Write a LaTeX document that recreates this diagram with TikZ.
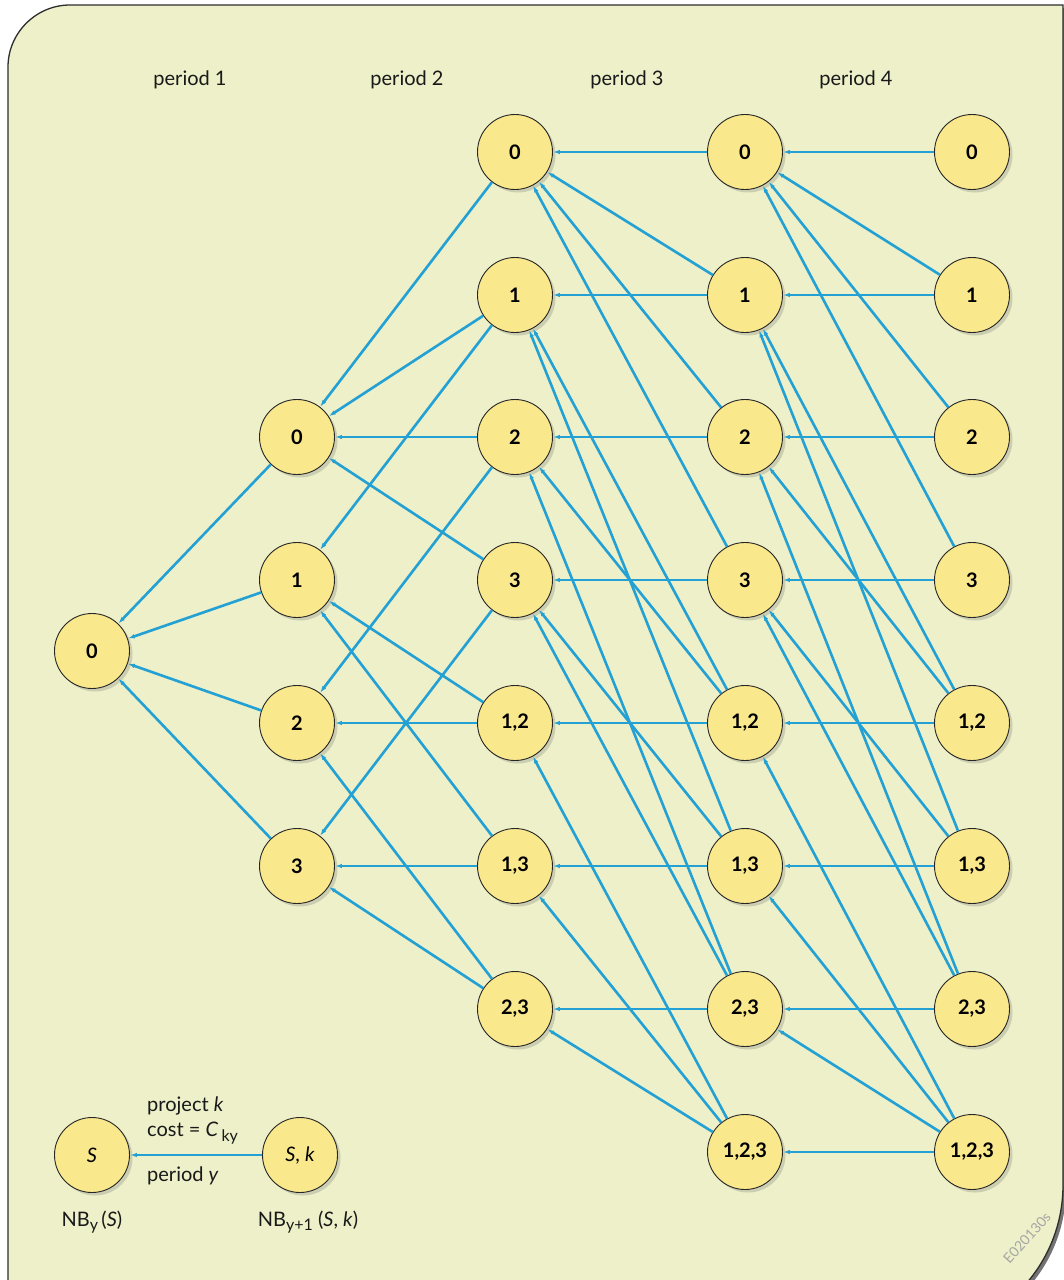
\documentclass[tikz,border=0pt]{standalone}
\usepackage{fontspec}
\setmainfont{Lato}
\usetikzlibrary{arrows.meta,shadows}
\definecolor{cardbg}{RGB}{237,240,200}
\definecolor{nodefill}{RGB}{250,232,140}
\definecolor{linkblue}{RGB}{35,160,212}
\definecolor{cardedge}{RGB}{45,45,45}
\newcommand\lowsub[1]{\raisebox{-0.45ex}{\fontsize{16}{16}\selectfont #1}}
\begin{document}
\begin{tikzpicture}[x=1pt,y=-1pt,
  state/.style={circle, draw=black!85, line width=0.9pt, fill=nodefill, minimum size=75pt, inner sep=0pt,
    font=\fontsize{20}{24}\selectfont\bfseries,
    drop shadow={shadow xshift=3pt, shadow yshift=-3pt, opacity=0.3}},
  legendstate/.style={state, font=\fontsize{20}{24}\selectfont},
  link/.style={draw=linkblue, line width=2.6pt, {Latex[length=7pt,width=4.5pt]}-},
  txt/.style={font=\fontsize{20}{24}\selectfont, text=black!90, inner sep=0pt}]
\useasboundingbox (0,0) rectangle (1064,1280);
% card
\fill[black!55] (1066,8) -- (73,8) .. controls (39,8) and (11,36) .. (11,70) -- (11,1338) -- (916,1338) .. controls (999,1338) and (1066,1271) .. (1066,1188) -- cycle;
\path[fill=cardbg, draw=cardedge, line width=1.3pt] (1063,5) -- (70,5) .. controls (36,5) and (8,33) .. (8,67) -- (8,1335) -- (913,1335) .. controls (996,1335) and (1063,1268) .. (1063,1185) -- cycle;
% headers
\node[txt] (h1) at (190,80) {period 1};
\node[txt] (h2) at (407,80) {period 2};
\node[txt] (h3) at (627,80) {period 3};
\node[txt] (h4) at (856,80) {period 4};
% column 0
\node[state] (n0-0) at (92,651) {0};
% column 1
\node[state] (n1-0) at (297,437) {0};
\node[state] (n1-1) at (297,580) {1};
\node[state] (n1-2) at (297,723) {2};
\node[state] (n1-3) at (297,866) {3};
% column 2
\node[state] (n2-0) at (515,152) {0};
\node[state] (n2-1) at (515,295) {1};
\node[state] (n2-2) at (515,437) {2};
\node[state] (n2-3) at (515,580) {3};
\node[state] (n2-12) at (515,723) {1,2};
\node[state] (n2-13) at (515,866) {1,3};
\node[state] (n2-23) at (515,1009) {2,3};
% column 3
\node[state] (n3-0) at (745,152) {0};
\node[state] (n3-1) at (745,295) {1};
\node[state] (n3-2) at (745,437) {2};
\node[state] (n3-3) at (745,580) {3};
\node[state] (n3-12) at (745,723) {1,2};
\node[state] (n3-13) at (745,866) {1,3};
\node[state] (n3-23) at (745,1009) {2,3};
\node[state] (n3-123) at (745,1152) {1,2,3};
% column 4
\node[state] (n4-0) at (972,152) {0};
\node[state] (n4-1) at (972,295) {1};
\node[state] (n4-2) at (972,437) {2};
\node[state] (n4-3) at (972,580) {3};
\node[state] (n4-12) at (972,723) {1,2};
\node[state] (n4-13) at (972,866) {1,3};
\node[state] (n4-23) at (972,1009) {2,3};
\node[state] (n4-123) at (972,1152) {1,2,3};
% edges
\foreach \b in {0,1,2,3} \draw[link] (n0-0) -- (n1-\b);
\foreach \a/\b in {0/0,0/1,0/2,0/3,1/1,1/12,1/13,2/2,2/12,2/23,3/3,3/13,3/23}
  \draw[link] (n1-\a) -- (n2-\b);
\foreach \a/\b in {0/0,0/1,0/2,0/3,1/1,1/12,1/13,2/2,2/12,2/23,3/3,3/13,3/23,12/12,12/123,13/13,13/123,23/23,23/123}
  \draw[link] (n2-\a) -- (n3-\b);
\foreach \a/\b in {0/0,0/1,0/2,0/3,1/1,1/12,1/13,2/2,2/12,2/23,3/3,3/13,3/23,12/12,12/123,13/13,13/123,23/23,23/123,123/123}
  \draw[link] (n3-\a) -- (n4-\b);
% legend
\node[legendstate] (ls) at (92,1155) {\textit{S}};
\node[legendstate] (lsk) at (300,1155) {\textit{S}, \textit{k}};
\draw[link] (ls) -- (lsk);
\node[txt, anchor=west] (lp) at (147,1106) {project \textit{k}};
\node[txt, anchor=west] (lc) at (147,1133) {cost = \textit{C}\,\lowsub{ky}};
\node[txt, anchor=west] (ly) at (147,1176) {period \textit{y}};
\node[txt] (nb1) at (92,1222) {NB\lowsub{y}\,(\textit{S})};
\node[txt] (nb2) at (308,1222) {NB\lowsub{y+1} (\textit{S}, \textit{k})};
\node[rotate=48, text=black!35, font=\fontsize{14}{16}\selectfont, inner sep=0pt] (wm) at (1027,1238) {E020130s};
\end{tikzpicture}
\end{document}
